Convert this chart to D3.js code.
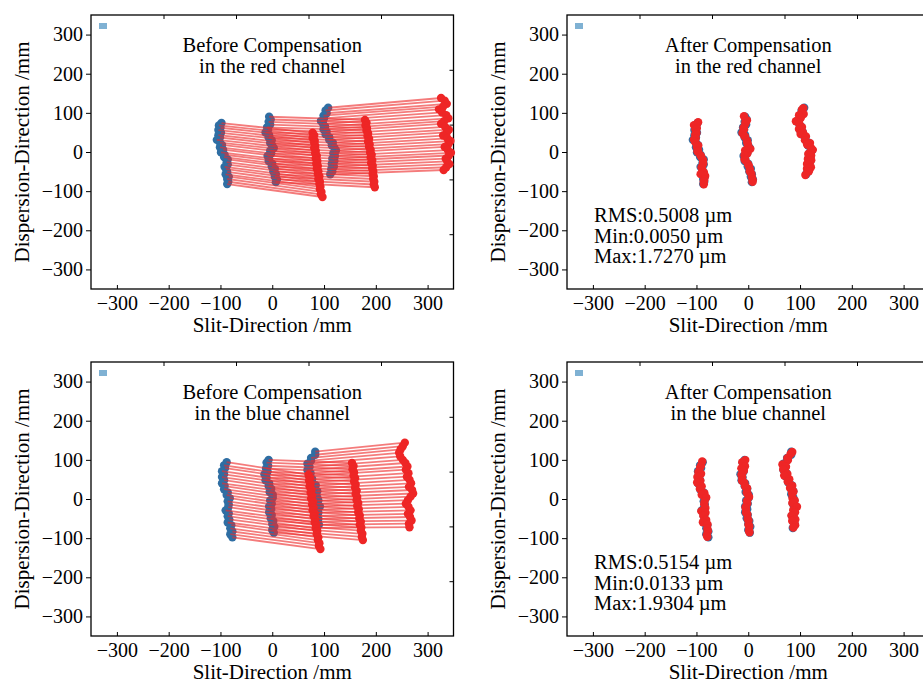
<!DOCTYPE html>
<html>
<head>
<meta charset="utf-8">
<script src="https://cdn.jsdelivr.net/npm/d3@7"></script>
<style>
  body { margin: 0; background: #fff; }
  svg { display: block; }
  text { font-family: "Liberation Serif", "Times New Roman", serif; fill: #000; }
</style>
</head>
<body>
<svg id="chart" width="923" height="684"></svg>
<script>
// ---- tick values (mm) ----
const xTicks = [-300, -200, -100, 0, 100, 200, 300];
const yTicks = [-300, -200, -100, 0, 100, 200, 300];

// ---- red channel: nominal spot positions (three field columns, mm) ----
const redChIdealX = [
  -98, -103, -100, -104, -99, -104, -101, -107, -101, -97, -101, -95, -99, -92, -93, -86, -88, -86, -92, -89, -87, -90, -84, -87, -85, -87,
  -6, -3, -7, -4, -10, -8, -13, -6, -7, -1, -4, 0, 3, -4, -2, -9, -6, -7, 0, -1, 5, 2, 7, 5, 9, 7,
  108, 103, 105, 99, 100, 94, 98, 102, 99, 105, 103, 110, 110, 117, 115, 120, 123, 118, 121, 116, 120, 115, 119, 114, 116, 112
];
const redChIdealY = [
  74, 68, 62, 56, 49, 43, 37, 31, 24, 18, 12, 6, -1, -7, -13, -19, -26, -32, -38, -44, -51, -57, -63, -69, -76, -82,
  90, 83, 77, 70, 63, 57, 50, 43, 37, 30, 23, 17, 10, 3, -3, -10, -17, -23, -30, -37, -43, -50, -57, -63, -70, -77,
  113, 106, 99, 93, 86, 79, 72, 65, 58, 52, 45, 38, 31, 24, 17, 11, 4, -3, -10, -17, -23, -30, -37, -44, -50, -57
];
// red channel: spot positions before compensation (mm)
const redChBeforeX = [
  78, 81, 78, 82, 81, 83, 81, 84, 83, 86, 84, 87, 85, 88, 86, 89, 88, 91, 89, 92, 91, 93, 92, 95, 94, 97,
  179, 182, 180, 183, 182, 185, 184, 187, 185, 188, 187, 190, 189, 192, 190, 193, 191, 194, 193, 195, 194, 196, 195, 197, 196, 198,
  326, 333, 337, 330, 322, 328, 336, 340, 332, 326, 334, 341, 337, 330, 338, 344, 340, 333, 339, 345, 341, 335, 338, 342, 336, 331
];
const redChBeforeY = [
  49, 42, 36, 29, 23, 16, 10, 3, -3, -10, -17, -23, -30, -36, -43, -49, -56, -62, -69, -76, -82, -89, -95, -102, -108, -115,
  82, 75, 68, 61, 55, 48, 41, 34, 27, 20, 13, 6, -1, -7, -14, -21, -28, -35, -42, -49, -56, -62, -69, -76, -83, -90,
  138, 131, 123, 116, 109, 101, 94, 86, 79, 72, 64, 57, 50, 42, 35, 28, 20, 13, 5, -2, -9, -17, -24, -31, -39, -46
];
// red channel: residual offsets after compensation (mm)
const redChAfterDx = [
  1.2, -1.8, 0.6, 2.0, -1.0, 1.6, -0.5, 2.2, -1.5, 0.4, 1.8, -2.1, 0.9, -0.8, 2.0, -1.3, 0.6, -1.1, 1.9, -0.4, 1.4, -2.0, 0.8, 2.1, -0.9, 1.2,
  -2.2, 0.5, 1.7, -1.4, 1.0, -0.3, 1.9, -1.8, 0.8, -1.3, 2.2, -0.7, 1.1, -2.0, 0.4, 1.8, -1.2, 1.5, -0.6, 2.3, -1.7, 0.9, -1.0, 2.0, -0.4, 1.3,
  -1.6, 0.7, 2.1, -0.9, 1.5, -2.0, 0.3, 1.8, -1.1, 0.6, -1.9, 1.4, -0.5, 2.2, -1.3, 0.9, 1.7, -2.1, 0.4, -0.8, 1.6, -1.5, 2.0, -0.6, 1.1, -1.7
];
const redChAfterDy = [
  2.1, 0.7, -1.4, 1.8, -0.6, 1.2, -2.0, 0.5, 1.6, -1.1, 0.9, -1.7, 2.0, -0.3, 1.3, -1.5, -2.2, 1.6, -0.8, 2.0, -1.3, 0.4, 1.7, -1.9, 0.8, -0.5,
  1.4, -2.1, 0.6, 1.9, -1.0, 0.3, -1.6, -1.8, 1.9, -1.2, 0.7, 1.5, -2.0, 0.9, -0.4, 1.6, -1.3, 2.1, -0.8, 1.0, -1.7, 0.5, 1.8, -1.1, -1.5, 0.6,
  -0.9, 1.7, -2.2, 0.8, 1.3, -0.6, 2.0, -1.4, 0.5, -1.8, 1.1, 1.9, -0.7, -1.2, 2.2, -0.3, 1.5, -1.9, 0.9, -1.0, 1.8, -0.4, -2.1, 1.2, 0.7, -1.6
];

// ---- blue channel: nominal spot positions (mm) ----
const blueChIdealX = [
  -88, -93, -91, -97, -93, -97, -93, -97, -92, -93, -86, -88, -82, -86, -84, -85, -90, -84, -86, -83, -86, -79, -81, -77, -81, -77,
  -7, -11, -8, -12, -9, -15, -11, -13, -6, -7, -2, -5, 1, 1, -4, -1, -6, -2, -6, -1, -3, 2, 0, 4, 0, 3,
  83, 83, 75, 75, 68, 72, 68, 74, 71, 77, 77, 84, 82, 87, 83, 87, 89, 86, 92, 88, 89, 84, 89, 87, 90, 86
];
const blueChIdealY = [
  94, 86, 79, 71, 63, 56, 48, 40, 33, 25, 17, 10, 2, -6, -14, -21, -29, -37, -44, -52, -60, -67, -75, -83, -90, -98,
  100, 93, 85, 78, 70, 63, 55, 48, 40, 33, 26, 18, 11, 3, -4, -12, -19, -26, -34, -41, -49, -56, -64, -71, -79, -86,
  121, 113, 105, 98, 90, 82, 74, 66, 59, 51, 43, 35, 27, 20, 12, 4, -4, -12, -19, -27, -35, -43, -51, -58, -66, -74
];
// blue channel: spot positions before compensation (mm)
const blueChBeforeX = [
  70, 73, 71, 74, 72, 76, 74, 77, 75, 79, 77, 80, 78, 82, 80, 83, 82, 85, 84, 87, 86, 89, 88, 91, 90, 93,
  154, 157, 155, 158, 157, 160, 158, 161, 160, 163, 161, 164, 163, 166, 164, 167, 166, 169, 168, 171, 169, 172, 171, 174, 173, 175,
  256, 252, 248, 245, 247, 252, 257, 261, 258, 263, 260, 265, 268, 264, 270, 272, 267, 262, 258, 263, 267, 262, 266, 269, 264, 265
];
const blueChBeforeY = [
  62, 54, 47, 39, 32, 24, 16, 9, 1, -6, -14, -22, -29, -37, -44, -52, -60, -67, -75, -82, -90, -98, -105, -113, -120, -128,
  92, 84, 76, 68, 60, 53, 45, 37, 29, 21, 13, 5, -3, -10, -18, -26, -34, -42, -50, -58, -66, -73, -81, -89, -97, -105,
  144, 135, 127, 118, 109, 100, 92, 83, 75, 66, 57, 49, 40, 31, 23, 14, 6, -3, -12, -20, -29, -38, -46, -55, -63, -72
];
// blue channel: residual offsets after compensation (mm)
const blueChAfterDx = [
  -0.9, 1.6, -2.0, 0.7, 1.9, -1.2, 0.5, -1.7, 2.1, -0.4, 1.3, -1.9, 0.8, 1.5, -1.0, 2.2, -0.6, 1.4, -0.7, 1.8, -1.6, 0.3, 2.0, -1.1, 0.9, -2.1,
  1.2, -0.5, 1.7, -1.3, 0.6, 1.9, -0.8, 1.1, -1.5, 0.9, -0.3, 2.1, -1.8, 0.6, 1.4, -1.0, 0.8, -2.2, 1.6, -0.7, 1.9, -1.4, 0.4, -1.9, 1.3, -0.6,
  2.0, -1.2, 0.5, 1.7, -2.0, 0.9, -0.4, 1.5, -1.6, 2.2, -0.8, 1.0, -1.3, 0.3, 1.8, -1.7, 0.7, -0.9, 2.1, -1.1, 1.4, -0.5, 1.9, -2.1, 0.6, 1.2
];
const blueChAfterDy = [
  1.7, -1.0, 0.6, -1.9, 1.3, 0.4, -1.5, 2.0, -0.7, 1.1, -2.1, 0.8, 1.6, -1.2, 0.3, -1.8, -2.0, 2.0, 0.9, -1.7, 0.5, 1.8, -1.1, 0.7, -2.0, 1.4,
  -0.6, 1.2, -1.5, 0.3, 1.9, -0.9, 1.0, -1.6, 1.8, -0.5, 1.3, -1.6, 0.8, 2.1, -1.2, 0.4, -1.9, 1.0, -0.3, 1.7, -1.4, 0.6, -2.0, 1.5, -1.3, 0.9,
  -1.1, 2.0, -0.7, 1.4, -1.8, 0.5, 1.6, -2.2, 0.8, -0.4, 1.9, -1.3, 1.1, -0.6, 2.1, -1.5, 0.3, 1.7, -0.9, -1.9, 1.2, 0.6, -1.4, 2.0, -0.8, 1.0
];

// ---- residual statistics ----
const statsRed = ["RMS:0.5008 \u00b5m", "Min:0.0050 \u00b5m", "Max:1.7270 \u00b5m"];
const statsBlue = ["RMS:0.5154 \u00b5m", "Min:0.0133 \u00b5m", "Max:1.9304 \u00b5m"];

const titlesBeforeRed = ["Before Compensation", "in the red channel"];
const titlesAfterRed = ["After Compensation", "in the red channel"];
const titlesBeforeBlue = ["Before Compensation", "in the blue channel"];
const titlesAfterBlue = ["After Compensation", "in the blue channel"];

const xLabel = "Slit-Direction /mm";
const yLabel = "Dispersion-Direction /mm";

// ---- layout ----
const W = 362.5, H = 274;
const BLUE = "#2f6ea3", RED = "#ee2626", LINE = "#ee2a2a", KEY = "#7fb1d3";

function pairs(xs, ys) { return xs.map((v, i) => ({ x: v, y: ys[i] })); }
function shifted(xs, ys, dx, dy) { return xs.map((v, i) => ({ x: v + dx[i], y: ys[i] + dy[i] })); }

const panels = [
  { left: 91, top: 15, ideal: pairs(redChIdealX, redChIdealY),
    moved: pairs(redChBeforeX, redChBeforeY), title: titlesBeforeRed, stats: null },
  { left: 567, top: 15, ideal: pairs(redChIdealX, redChIdealY),
    moved: shifted(redChIdealX, redChIdealY, redChAfterDx, redChAfterDy), title: titlesAfterRed, stats: statsRed },
  { left: 91, top: 362, ideal: pairs(blueChIdealX, blueChIdealY),
    moved: pairs(blueChBeforeX, blueChBeforeY), title: titlesBeforeBlue, stats: null },
  { left: 567, top: 362, ideal: pairs(blueChIdealX, blueChIdealY),
    moved: shifted(blueChIdealX, blueChIdealY, blueChAfterDx, blueChAfterDy), title: titlesAfterBlue, stats: statsBlue }
];

const svg = d3.select("#chart");

panels.forEach(p => {
  const g = svg.append("g").attr("transform", `translate(${p.left},${p.top})`);
  const x = d3.scaleLinear().domain([-350, 350]).range([0, W]);
  const y = d3.scaleLinear().domain([-350, 350]).range([H, 0]);
  const fx = d3.scaleLinear().domain([0, 1]).range([0, W]);
  const fy = d3.scaleLinear().domain([0, 1]).range([H, 0]);

  // bottom axis, ticks pointing inward
  const ax = g.append("g").attr("transform", `translate(0,${H})`)
    .call(d3.axisBottom(x).tickValues(xTicks).tickSize(-4).tickPadding(7));
  // left axis, ticks pointing outward
  const ay = g.append("g")
    .call(d3.axisLeft(y).tickValues(yTicks).tickSize(5).tickPadding(3));
  // secondary top / right ticks
  const at = g.append("g")
    .call(d3.axisTop(fx).tickValues([0.2, 0.4, 0.6, 0.8]).tickSize(-4).tickFormat(""));
  const ar = g.append("g").attr("transform", `translate(${W},0)`)
    .call(d3.axisRight(fy).tickValues([0.2, 0.4, 0.6, 0.8]).tickSize(-4).tickFormat(""));

  [ax, ay, at, ar].forEach(a => {
    a.select(".domain").remove();
    a.selectAll(".tick line").attr("stroke", "#000").attr("stroke-width", 1);
    a.selectAll(".tick text").attr("font-size", 20)
      .attr("font-family", "'Liberation Serif','Times New Roman',serif").attr("fill", "#000");
  });

  // frame
  g.append("rect").attr("width", W).attr("height", H)
    .attr("fill", "none").attr("stroke", "#000").attr("stroke-width", 1.3);

  // small key swatch
  g.append("rect").attr("x", 8).attr("y", 8).attr("width", 8).attr("height", 6).attr("fill", KEY);

  // nominal spots
  g.append("g").selectAll("circle").data(p.ideal).join("circle")
    .attr("cx", d => x(d.x)).attr("cy", d => y(d.y)).attr("r", 4.2).attr("fill", BLUE);

  // displacement lines
  g.append("g").selectAll("line").data(p.ideal).join("line")
    .attr("x1", d => x(d.x)).attr("y1", d => y(d.y))
    .attr("x2", (d, i) => x(p.moved[i].x)).attr("y2", (d, i) => y(p.moved[i].y))
    .attr("stroke", LINE).attr("stroke-opacity", 0.62).attr("stroke-width", 1.8);

  // displaced spots
  g.append("g").selectAll("circle").data(p.moved).join("circle")
    .attr("cx", d => x(d.x)).attr("cy", d => y(d.y)).attr("r", 4.2).attr("fill", RED);

  // title
  g.append("text").attr("x", W / 2).attr("y", 37).attr("text-anchor", "middle")
    .attr("font-size", 20.5).text(p.title[0]);
  g.append("text").attr("x", W / 2).attr("y", 58).attr("text-anchor", "middle")
    .attr("font-size", 20.5).text(p.title[1]);

  // statistics
  if (p.stats) {
    g.append("g").selectAll("text").data(p.stats).join("text")
      .attr("x", 27).attr("y", (d, i) => 207 + i * 20.5)
      .attr("font-size", 20.5).text(d => d);
  }

  // axis titles
  g.append("text").attr("x", W / 2).attr("y", H + 43).attr("text-anchor", "middle")
    .attr("font-size", 21).text(xLabel);
  g.append("text").attr("transform", `translate(-62,${H / 2}) rotate(-90)`)
    .attr("text-anchor", "middle").attr("font-size", 21).text(yLabel);
});
</script>
</body>
</html>
